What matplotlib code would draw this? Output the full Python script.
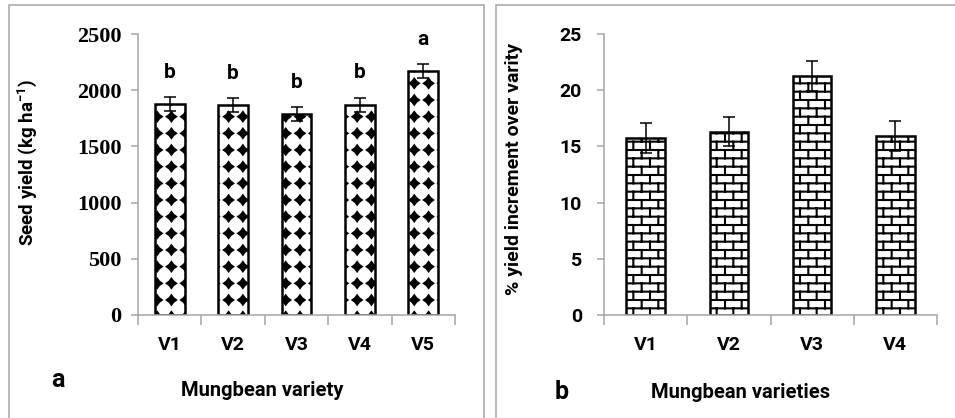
import warnings
import numpy as np
import matplotlib
matplotlib.use("Agg")
import matplotlib.pyplot as plt
import matplotlib.hatch as mhatch
from matplotlib.path import Path
from matplotlib.patches import Rectangle

warnings.filterwarnings("ignore", message="hatch must consist")

# data
varieties_a = ["V1", "V2", "V3", "V4", "V5"]
seed_yield = [1876, 1867, 1790, 1870, 2172]
seed_yield_err = [63, 60, 60, 64, 60]
letters = ["b", "b", "b", "b", "a"]

varieties_b = ["V1", "V2", "V3", "V4"]
yield_increment = [15.72, 16.31, 21.29, 15.93]
yield_increment_err = [1.33, 1.30, 1.33, 1.30]


# custom hatches: "D" = four point stars grid, "B" = brick wall
class StarGrid(mhatch.HatchPatternBase):
    rows, cols, size, inner = 6, 7, 0.046, 0.6

    def __init__(self, hatch, density):
        self.on = "D" in hatch
        self.num_vertices = 9 * (self.rows + 1) * (self.cols + 1) if self.on else 0

    def set_vertices_and_codes(self, vertices, codes):
        ang = np.pi / 2 + np.arange(8) * np.pi / 4
        rad = np.where(np.arange(8) % 2 == 0, 1.0, self.inner) * self.size
        star = np.column_stack([rad * np.cos(ang), rad * np.sin(ang)])
        star = np.vstack([star, star[:1]])
        scodes = [Path.MOVETO] + [Path.LINETO] * 7 + [Path.CLOSEPOLY]
        k = 0
        for r in range(self.rows + 1):
            for c in range(self.cols + 1):
                vertices[k:k + 9] = star + (c / self.cols, r / self.rows)
                codes[k:k + 9] = scodes
                k += 9


class Bricks(mhatch.HatchPatternBase):
    rows, cols = 12, 6

    def __init__(self, hatch, density):
        self.on = "B" in hatch
        self.segs = []
        if self.on:
            for r in range(self.rows + 1):
                y = r / self.rows
                self.segs.append(((0, y), (1, y)))
            for r in range(self.rows):
                y0, y1 = r / self.rows, (r + 1) / self.rows
                if r % 2:
                    xs = [(c + 0.5) / self.cols for c in range(self.cols)]
                else:
                    xs = [c / self.cols for c in range(self.cols + 1)]
                for x in xs:
                    self.segs.append(((x, y0), (x, y1)))
        self.num_vertices = 2 * len(self.segs)

    def set_vertices_and_codes(self, vertices, codes):
        for i, (p0, p1) in enumerate(self.segs):
            vertices[2 * i] = p0
            vertices[2 * i + 1] = p1
            codes[2 * i] = Path.MOVETO
            codes[2 * i + 1] = Path.LINETO


mhatch._hatch_types.extend([StarGrid, Bricks])

plt.rcParams["font.family"] = ["Roboto", "DejaVu Sans"]
plt.rcParams["font.weight"] = "bold"
plt.rcParams["mathtext.fontset"] = "custom"
plt.rcParams["mathtext.rm"] = "Roboto:bold"
plt.rcParams["mathtext.default"] = "rm"
plt.rcParams["hatch.linewidth"] = 1.5

W, H = 955, 418
fig = plt.figure(figsize=(W / 100, H / 100), dpi=100)

grey = "#a6a6a6"
fig.patches.append(Rectangle((8.5 / W, -0.1), 475 / W, 1.1 - 5.5 / H, transform=fig.transFigure,
                             fill=False, edgecolor=grey, linewidth=1.1))
fig.patches.append(Rectangle((495.5 / W, -0.1), 0.5, 1.1 - 5.5 / H, transform=fig.transFigure,
                             fill=False, edgecolor=grey, linewidth=1.1))

ax_a = fig.add_axes([138 / W, 1 - 315 / H, 317 / W, 281 / H])
ax_b = fig.add_axes([604.3 / W, 1 - 315 / H, 332.4 / W, 281 / H])


def style_axes(ax, n):
    for s in ["top", "right"]:
        ax.spines[s].set_visible(False)
    for s in ["left", "bottom"]:
        ax.spines[s].set_color(grey)
        ax.spines[s].set_linewidth(1.1)
    ax.set_xlim(-0.5, n - 0.5)
    ax.set_xticks(np.arange(n))
    ax.set_xticks(np.arange(n + 1) - 0.5, minor=True)
    ax.tick_params(axis="x", which="major", length=0, pad=15, labelsize=14)
    ax.tick_params(axis="x", which="minor", length=7, width=1.1, color=grey)
    ax.tick_params(axis="y", length=5, width=1.1, color=grey)


# panel a
x = np.arange(len(varieties_a))
ax_a.bar(x, seed_yield, width=0.47, color="white", edgecolor="black",
         linewidth=1.8, hatch="D")
ax_a.errorbar(x, seed_yield, yerr=seed_yield_err, fmt="none", ecolor="black",
              elinewidth=1.1, capsize=4.5, capthick=1.1)
for xi, v, e, lab in zip(x, seed_yield, seed_yield_err, letters):
    ax_a.annotate(lab, (xi, v + e), xytext=(0, 18), textcoords="offset points",
                  ha="center", va="center", fontsize=15, fontweight="bold")
style_axes(ax_a, len(varieties_a))
ax_a.set_xticklabels(varieties_a)
ax_a.set_ylim(0, 2500)
ax_a.set_yticks(np.arange(0, 2501, 500))
ax_a.tick_params(axis="y", pad=7)
for t in ax_a.get_yticklabels():
    t.set_family("Liberation Serif")
    t.set_fontsize(16)
    t.set_fontweight("bold")
ax_a.set_ylabel("Seed yield (kg ha$^{-1}$)", fontsize=13.5, fontweight="bold")
ax_a.yaxis.set_label_coords(-0.312, 0.543)

# panel b
x = np.arange(len(varieties_b))
ax_b.bar(x, yield_increment, width=0.466, color="white", edgecolor="black",
         linewidth=1.8, hatch="B")
ax_b.errorbar(x, yield_increment, yerr=yield_increment_err, fmt="none", ecolor="black",
              elinewidth=1.1, capsize=4.5, capthick=1.1)
style_axes(ax_b, len(varieties_b))
ax_b.set_xticklabels(varieties_b)
ax_b.set_ylim(0, 25)
ax_b.set_yticks(np.arange(0, 26, 5))
ax_b.tick_params(axis="y", pad=11, labelsize=14)
ax_b.set_ylabel("% yield increment over varity", fontsize=14, fontweight="bold")
ax_b.yaxis.set_label_coords(-0.245, 0.518)

fig.text(262 / W, 1 - 390 / H, "Mungbean variety", ha="center", va="center",
         fontsize=14.5, fontweight="bold")
fig.text(58 / W, 1 - 380 / H, "a", ha="center", va="center", fontsize=18, fontweight="bold")
fig.text(741 / W, 1 - 393 / H, "Mungbean varieties", ha="center", va="center",
         fontsize=14.5, fontweight="bold")
fig.text(562 / W, 1 - 392 / H, "b", ha="center", va="center", fontsize=18, fontweight="bold")

fig.savefig("out.png", dpi=100)
